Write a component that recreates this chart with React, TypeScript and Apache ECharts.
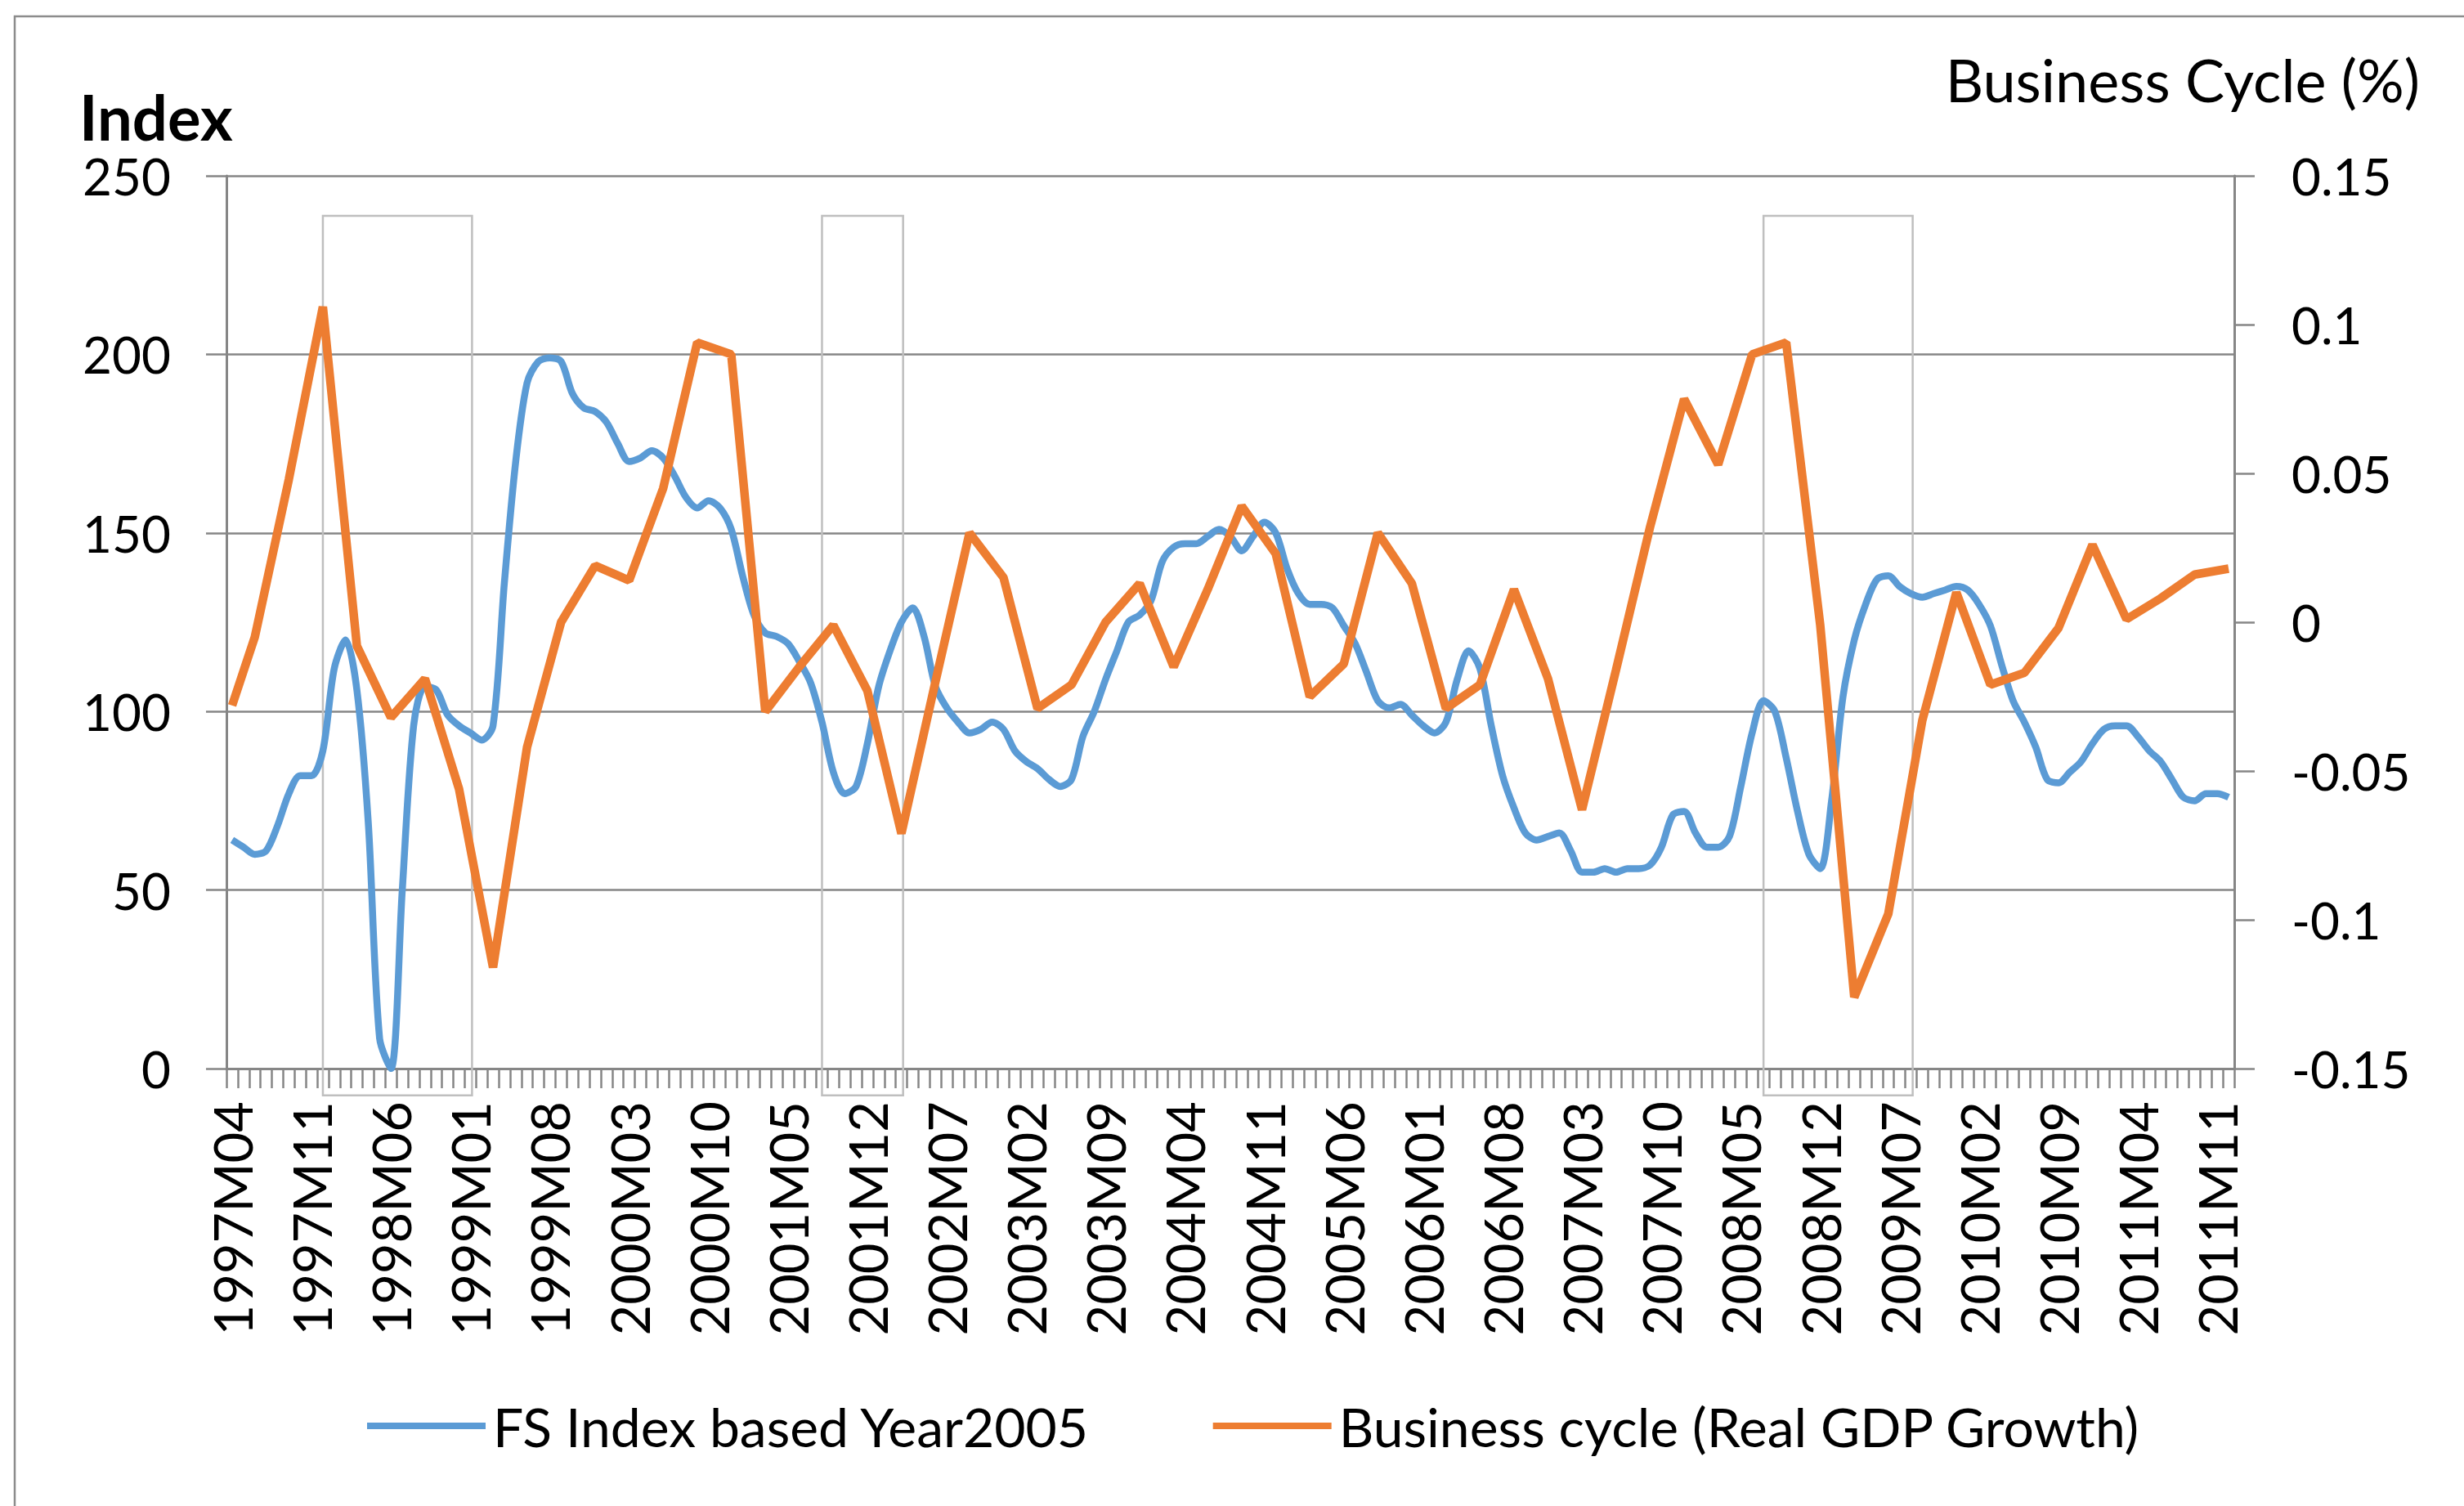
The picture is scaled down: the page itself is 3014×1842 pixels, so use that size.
import React, { useEffect, useRef } from "react";
import * as echarts from "echarts";

// Monthly categories 1997M04 .. 2011M12
const firstYear = 1997;
const firstMonth = 4;
const monthCount = 177;
const categories: string[] = [];
for (let k = 0; k < monthCount; k++) {
  const m = firstMonth - 1 + k;
  const y = firstYear + Math.floor(m / 12);
  const mm = (m % 12) + 1;
  categories.push(`${y}M${String(mm).padStart(2, "0")}`);
}

// FS Index based Year2005 (monthly, left axis)
const fsIndex = [
  64, 62, 60, 61, 68, 77, 82, 82, 89, 112, 120, 106, 69, 8.5, 0, 50, 96, 107, 106, 99,
  96, 94, 92, 96, 136, 170, 192, 198, 199, 198, 189, 185, 184, 181, 175, 170, 171, 173, 171, 166,
  160, 157, 159, 157, 151, 138, 127, 122, 121, 119, 114, 108, 97, 83, 77, 79, 91, 107, 117, 125,
  129, 121, 107, 101, 97, 94, 95, 97, 95, 89, 86, 84, 81, 79, 81, 93, 100, 109, 117, 125,
  127, 131, 142, 146, 147, 147, 149, 151, 149, 145, 149, 153, 150, 140, 133, 130, 130, 129, 124, 119,
  111, 103, 101, 102, 99, 96, 94, 97, 109, 117, 112, 96, 82, 73, 66, 64, 65, 66, 61, 55,
  55, 56, 55, 56, 56, 57, 62, 71, 72, 66, 62, 62, 65, 79, 94, 103, 100, 87, 72, 60,
  56, 75, 104, 120, 130, 137, 138, 135, 133, 132, 133, 134, 135, 134, 130, 124, 113, 103, 97, 90,
  81, 80, 83, 86, 91, 95, 96, 96, 93, 89, 86, 81, 76, 75, 77, 77, 76,
];

// Business cycle (Real GDP growth), quarterly points, right axis
const cycleDates = [
  "1997M04", "1997M06", "1997M09", "1997M12",
  "1998M03", "1998M06", "1998M09", "1998M12",
  "1999M03", "1999M06", "1999M09", "1999M12",
  "2000M03", "2000M06", "2000M09", "2000M12",
  "2001M03", "2001M06", "2001M09", "2001M12",
  "2002M03", "2002M06", "2002M09", "2002M12",
  "2003M03", "2003M06", "2003M09", "2003M12",
  "2004M03", "2004M06", "2004M09", "2004M12",
  "2005M03", "2005M06", "2005M09", "2005M12",
  "2006M03", "2006M06", "2006M09", "2006M12",
  "2007M03", "2007M06", "2007M09", "2007M12",
  "2008M03", "2008M06", "2008M09", "2008M12",
  "2009M03", "2009M06", "2009M09", "2009M12",
  "2010M03", "2010M06", "2010M09", "2010M12",
  "2011M03", "2011M06", "2011M09", "2011M12",
];
const cycleValues = [
  -0.028, -0.005, 0.048, 0.106,
  -0.008, -0.032, -0.019, -0.056,
  -0.116, -0.042, 0.0, 0.019,
  0.014, 0.045, 0.094, 0.09,
  -0.03, -0.015, -0.001, -0.023,
  -0.071, -0.02, 0.03, 0.015,
  -0.029, -0.021, 0.0, 0.013,
  -0.015, 0.011, 0.039, 0.023,
  -0.025, -0.014, 0.03, 0.013,
  -0.029, -0.021, 0.011, -0.019,
  -0.063, -0.016, 0.032, 0.075,
  0.053, 0.09, 0.094, -0.001,
  -0.126, -0.098, -0.033, 0.01,
  -0.021, -0.017, -0.002, 0.026,
  0.001, 0.008, 0.016, 0.018,
];

// Recession boxes (start / end months)
const recessionStarts = ["1997M12", "2001M08", "2008M07"];
const recessionEnds = ["1999M01", "2002M03", "2009M08"];

const FONT = "Lato";
const AXIS_GRAY = "#868686";

export default function App() {
  const ref = useRef<HTMLDivElement>(null);

  useEffect(() => {
    if (!ref.current) return;
    const chart = echarts.init(ref.current, null, { renderer: "svg" });

    const cycleSeries: (number | null)[] = categories.map(() => null);
    cycleDates.forEach((d, k) => {
      const idx = categories.indexOf(d);
      if (idx >= 0) cycleSeries[idx] = cycleValues[k];
    });

    const baseGraphics: any[] = [
      {
        type: "rect",
        shape: { x: 18, y: 20, width: 3200, height: 2000 },
        style: { fill: "none", stroke: "#8c8c8c", lineWidth: 2.5 },
        silent: true,
        z: -1,
      },
      {
        type: "text",
        x: 97,
        y: 142,
        style: {
          text: "Index",
          font: `bold 76px ${FONT}`,
          lineHeight: 60,
          fill: "#000",
          textAlign: "left",
          textVerticalAlign: "middle",
        },
      },
      {
        type: "text",
        x: 2960,
        y: 97,
        style: {
          text: "Business Cycle (%)",
          font: `72px ${FONT}`,
          fill: "#000",
          textAlign: "right",
          textVerticalAlign: "middle",
        },
      },
    ];

    const option: any = {
      animation: false,
      backgroundColor: "#fff",
      grid: { left: 277, top: 215, width: 2456, height: 1092, containLabel: false },
      legend: {
        left: 444,
        top: 1702,
        itemWidth: 145,
        itemHeight: 8,
        itemGap: 150,
        icon: "rect",
        textStyle: { fontFamily: FONT, fontSize: 66, color: "#000", lineHeight: 74, padding: [0, 0, 0, 4] },
        data: ["FS Index based Year2005", "Business cycle (Real GDP Growth)"],
      },
      xAxis: {
        type: "category",
        data: categories,
        boundaryGap: true,
        axisLine: { show: true, lineStyle: { color: AXIS_GRAY, width: 3 } },
        axisTick: { show: true, interval: 0, length: 24, lineStyle: { color: AXIS_GRAY, width: 2.5 } },
        axisLabel: {
          interval: 6,
          rotate: 90,
          margin: 40,
          fontFamily: FONT,
          fontSize: 65,
          color: "#000",
        },
        splitLine: { show: false },
      },
      yAxis: [
        {
          type: "value",
          min: 0,
          max: 250,
          interval: 50,
          position: "left",
          axisLine: { show: true, lineStyle: { color: AXIS_GRAY, width: 3 } },
          axisTick: { show: true, length: 25, lineStyle: { color: AXIS_GRAY, width: 2.5 } },
          axisLabel: { margin: 68, fontFamily: FONT, fontSize: 62, lineHeight: 50, color: "#000" },
          splitLine: { show: true, lineStyle: { color: AXIS_GRAY, width: 2.5 } },
        },
        {
          type: "value",
          min: -0.15,
          max: 0.15,
          interval: 0.05,
          position: "right",
          axisLine: { show: true, lineStyle: { color: AXIS_GRAY, width: 3 } },
          axisTick: { show: true, length: 25, lineStyle: { color: AXIS_GRAY, width: 2.5 } },
          axisLabel: {
            margin: 70,
            fontFamily: FONT,
            fontSize: 62,
            lineHeight: 50,
            color: "#000",
            formatter: (v: number) => String(Math.round(v * 100) / 100),
          },
          splitLine: { show: false },
        },
      ],
      series: [
        {
          name: "FS Index based Year2005",
          type: "line",
          data: fsIndex,
          yAxisIndex: 0,
          showSymbol: false,
          smooth: 0.3,
          lineStyle: { color: "#5B9BD5", width: 8.5 },
          itemStyle: { color: "#5B9BD5" },
          z: 3,
        },
        {
          name: "Business cycle (Real GDP Growth)",
          type: "line",
          data: cycleSeries,
          yAxisIndex: 1,
          showSymbol: false,
          connectNulls: true,
          lineStyle: { color: "#ED7D31", width: 10.5 },
          itemStyle: { color: "#ED7D31" },
          z: 4,
        },
      ],
      graphic: baseGraphics,
    };

    chart.setOption(option);

    const bandWidth = (chart.convertToPixel({ xAxisIndex: 0 }, categories[1]) as number) -
      (chart.convertToPixel({ xAxisIndex: 0 }, categories[0]) as number);
    const yTop = chart.convertToPixel({ yAxisIndex: 0 }, 238.8) as number;
    const yBottom = chart.convertToPixel({ yAxisIndex: 0 }, -7.5) as number;
    const boxes = recessionStarts.map((s, k) => {
      const x1 = chart.convertToPixel({ xAxisIndex: 0 }, s) as number;
      const x2 = (chart.convertToPixel({ xAxisIndex: 0 }, recessionEnds[k]) as number) + bandWidth * 0.15;
      return {
        type: "rect",
        shape: { x: x1, y: yTop, width: x2 - x1, height: yBottom - yTop },
        style: { fill: "none", stroke: "#BFBFBF", lineWidth: 2.5 },
        silent: true,
        z: 1,
      };
    });
    chart.setOption({ graphic: [...baseGraphics, ...boxes] });

    return () => chart.dispose();
  }, []);

  return (
    <div
      ref={ref}
      style={{ position: "fixed", left: 0, top: 0, width: 3014, height: 1842, background: "#fff" }}
    />
  );
}
